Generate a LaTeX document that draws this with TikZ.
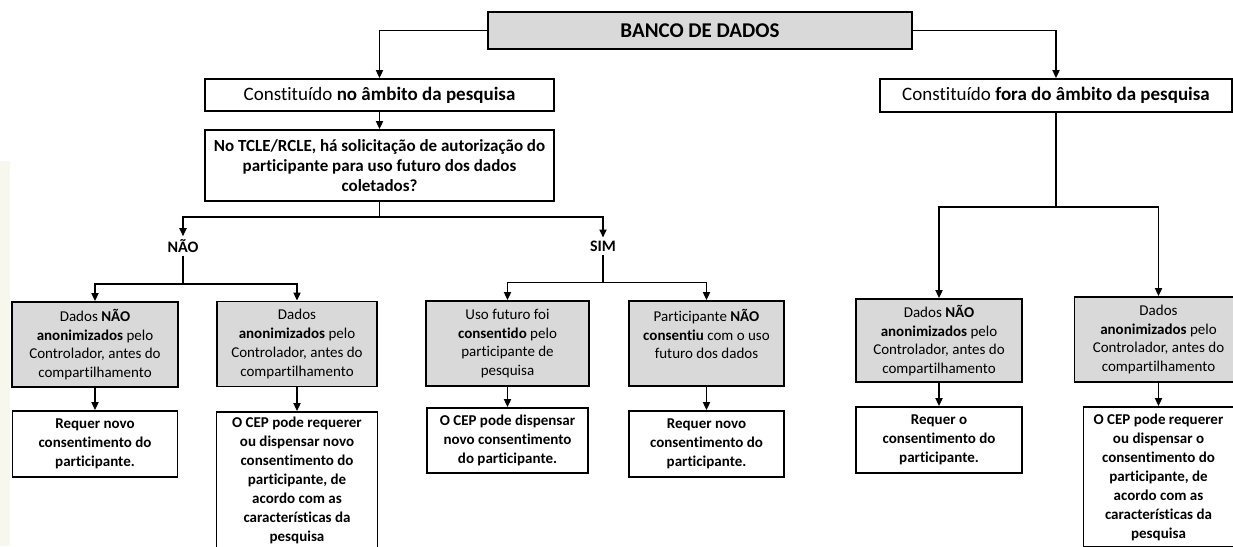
\documentclass[tikz,border=0pt]{standalone}
\usepackage{fontspec}
\setmainfont{Carlito}[Ligatures=NoCommon]
\usetikzlibrary{arrows.meta}
\definecolor{boxgray}{RGB}{217,217,217}
\definecolor{cream}{RGB}{247,247,238}

\begin{document}
\begin{tikzpicture}[x=1pt,y=-1pt, every node/.style={font=\fontsize{15}{18.7}\selectfont, align=center, inner sep=0pt},
    graybox/.style={draw, rectangle, line width=1.8pt, fill=boxgray},
    whitebox/.style={draw, rectangle, line width=1.8pt, fill=white, font=\fontsize{15}{19}\selectfont\bfseries},
    topbox/.style={draw, rectangle, line width=1.8pt, font=\fontsize{19}{22}\selectfont},
    answer/.style={inner sep=3pt, font=\fontsize{16}{19}\selectfont\bfseries},
    link/.style={line width=1.8pt},
    arr/.style={line width=1.8pt, -{Triangle[length=8pt,width=7pt]}}]
    \useasboundingbox (0,0) rectangle (1233,546);
    \clip (0,0) rectangle (1233,546);
    \fill[cream] (0,161) rectangle (10,546);
    \node[topbox, fill=boxgray, minimum width=424pt, minimum height=37pt, font=\fontsize{21}{24}\selectfont\bfseries] (banco) at (700,30.5) {BANCO DE DADOS};
    \node[topbox, minimum width=349pt, minimum height=32pt] (noamb) at (379.5,95) {Constituído \textbf{no âmbito da pesquisa}};
    \node[topbox, minimum width=352pt, minimum height=33pt] (fora) at (1056,95.5) {Constituído \textbf{fora do âmbito da pesquisa}};
    \node[topbox, minimum width=349pt, minimum height=71pt, font=\fontsize{17}{20}\selectfont\bfseries] (pergunta) at (379.5,165.5) {No TCLE/RCLE, há solicitação de autorização do\\participante para uso futuro dos dados\\coletados?};
    \node[answer] (nao) at (183,246) {NÃO};
    \node[answer] (sim) at (603,246) {SIM};
    \node[graybox, minimum width=166pt, minimum height=85pt] (gnao) at (95,344.5) {Dados \textbf{NÃO}\\\textbf{anonimizados} pelo\\Controlador, antes do\\compartilhamento};
    \node[graybox, minimum width=160pt, minimum height=85pt] (ganon) at (297,344) {Dados\\\textbf{anonimizados} pelo\\Controlador, antes do\\compartilhamento};
    \node[graybox, minimum width=163pt, minimum height=85pt] (guso) at (507.5,343.5) {Uso futuro foi\\\textbf{consentido} pelo\\participante de\\pesquisa};
    \node[graybox, minimum width=155pt, minimum height=85pt] (gpart) at (706.5,343.5) {Participante \textbf{NÃO}\\\textbf{consentiu} com o uso\\futuro dos dados\\~};
    \node[graybox, minimum width=166pt, minimum height=83pt] (gfnao) at (939,340.5) {Dados \textbf{NÃO}\\\textbf{anonimizados} pelo\\Controlador, antes do\\compartilhamento};
    \node[graybox, minimum width=168pt, minimum height=85pt] (gfanon) at (1158.5,339.5) {Dados\\\textbf{anonimizados} pelo\\Controlador, antes do\\compartilhamento};
    \node[whitebox, minimum width=165pt, minimum height=66pt] (rnovo) at (95,444) {Requer novo\\consentimento do\\participante.};
    \node[whitebox, minimum width=161pt, minimum height=136pt] (rcep) at (297,480) {O CEP pode requerer\\ou dispensar novo\\consentimento do\\participante, de\\acordo com as\\características da\\pesquisa};
    \node[whitebox, minimum width=161pt, minimum height=65pt] (rdisp) at (507.5,440.5) {O CEP pode dispensar\\novo consentimento\\do participante.};
    \node[whitebox, minimum width=155pt, minimum height=66pt] (rpart) at (706.5,444) {Requer novo\\consentimento do\\participante.};
    \node[whitebox, minimum width=166pt, minimum height=66pt] (rfreq) at (939,440) {Requer o\\consentimento do\\participante.};
    \node[whitebox, minimum width=150pt, minimum height=140pt] (rfcep) at (1158.5,477) {O CEP pode requerer\\ou dispensar o\\consentimento do\\participante, de\\acordo com as\\características da\\pesquisa};
    \draw[arr] (banco.west) -| (noamb.north);
    \draw[arr] (banco.east) -| (fora.north);
    \draw[arr] (noamb) -- (pergunta);
    \draw[link] (pergunta.south) -- ++(0,15) coordinate (qsplit);
    \draw[arr] (qsplit) -| (nao.north);
    \draw[arr] (qsplit) -| (sim.north);
    \draw[link] (nao.south) -- ++(0,28) coordinate (naosplit);
    \draw[arr] (naosplit) -| (gnao.north);
    \draw[arr] (naosplit) -| (ganon.north);
    \draw[link] (sim.south) -- ++(0,28) coordinate (simsplit);
    \draw[arr] (simsplit) -| (guso.north);
    \draw[arr] (simsplit) -| (gpart.north);
    \draw[link] (fora.south) -- ++(0,94) coordinate (forasplit);
    \draw[arr] (forasplit) -| (gfnao.north);
    \draw[arr] (forasplit) -| (gfanon.north);
    \draw[arr] (gnao) -- (rnovo);
    \draw[arr] (ganon) -- (rcep);
    \draw[arr] (guso) -- (rdisp);
    \draw[arr] (gpart) -- (rpart);
    \draw[arr] (gfnao) -- (rfreq);
    \draw[arr] (gfanon) -- (rfcep);
\end{tikzpicture}
\end{document}
